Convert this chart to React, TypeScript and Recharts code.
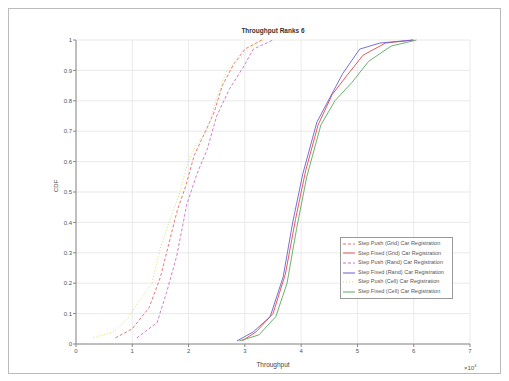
import { LineChart, Line, XAxis, YAxis, CartesianGrid } from 'recharts'

// CDF curves (x in units of 10^4)
const pushGridX = [0.7, 1.0, 1.3, 1.5, 1.65, 1.8, 1.95, 2.1, 2.25, 2.45, 2.6, 2.8, 3.0, 3.3]
const pushGridY = [0.02, 0.05, 0.12, 0.22, 0.33, 0.44, 0.52, 0.62, 0.68, 0.76, 0.85, 0.92, 0.97, 1]
const fixedGridX = [2.95, 3.2, 3.5, 3.72, 3.9, 4.08, 4.3, 4.55, 4.8, 5.1, 5.5, 6.0]
const fixedGridY = [0.01, 0.04, 0.1, 0.23, 0.41, 0.57, 0.72, 0.82, 0.88, 0.95, 0.99, 1]
const pushRandX = [1.08, 1.44, 1.61, 1.79, 1.97, 2.15, 2.33, 2.5, 2.73, 2.97, 3.15, 3.5]
const pushRandY = [0.02, 0.07, 0.17, 0.29, 0.46, 0.56, 0.64, 0.75, 0.84, 0.91, 0.97, 1]
const fixedRandX = [2.86, 3.15, 3.45, 3.68, 3.85, 4.03, 4.28, 4.51, 4.74, 5.04, 5.4, 5.99]
const fixedRandY = [0.01, 0.04, 0.09, 0.22, 0.4, 0.56, 0.73, 0.81, 0.89, 0.97, 0.99, 1]
const pushCellX = [0.3, 0.66, 0.9, 1.08, 1.35, 1.49, 1.67, 1.85, 1.99, 2.15, 2.33, 2.5, 2.68, 2.91, 3.2, 3.35]
const pushCellY = [0.02, 0.04, 0.08, 0.13, 0.2, 0.31, 0.41, 0.5, 0.6, 0.66, 0.7, 0.81, 0.9, 0.94, 0.99, 1]
const fixedCellX = [2.9, 3.25, 3.55, 3.75, 3.92, 4.1, 4.35, 4.6, 4.9, 5.2, 5.6, 6.05]
const fixedCellY = [0.01, 0.03, 0.09, 0.2, 0.38, 0.55, 0.72, 0.8, 0.86, 0.93, 0.98, 1]

const xTicks = [0, 1, 2, 3, 4, 5, 6, 7]
const yTicks = [0, 0.1, 0.2, 0.3, 0.4, 0.5, 0.6, 0.7, 0.8, 0.9, 1]

const toPoints = (xs: number[], ys: number[]) => xs.map((x, i) => ({ x, y: ys[i] }))

const series = [
  { name: 'Step Push (Grid) Car Registration', xs: pushGridX, ys: pushGridY, color: '#e86a6a', dash: '3 2' },
  { name: 'Step Fixed (Grid) Car Registration', xs: fixedGridX, ys: fixedGridY, color: '#e04848', dash: undefined },
  { name: 'Step Push (Rand) Car Registration', xs: pushRandX, ys: pushRandY, color: '#c870c8', dash: '3 2' },
  { name: 'Step Fixed (Rand) Car Registration', xs: fixedRandX, ys: fixedRandY, color: '#6a5fd0', dash: undefined },
  { name: 'Step Push (Cell) Car Registration', xs: pushCellX, ys: pushCellY, color: '#d8d860', dash: '1 2' },
  { name: 'Step Fixed (Cell) Car Registration', xs: fixedCellX, ys: fixedCellY, color: '#5aa860', dash: undefined },
]

const font = '"Liberation Sans", Arial, sans-serif'
const tickStyle = { fontSize: 6, fill: '#555', fontFamily: font }

function LegendBox() {
  return (
    <div
      style={{
        position: 'absolute',
        left: 331,
        top: 228,
        width: 113,
        boxSizing: 'border-box',
        border: '1px solid #999',
        background: '#fff',
        padding: '1px 2px',
        fontFamily: font,
        fontSize: 5.5,
        color: '#555',
        lineHeight: '9.6px',
      }}
    >
      {series.map((s) => (
        <div key={s.name} style={{ display: 'flex', alignItems: 'center', whiteSpace: 'nowrap' }}>
          <svg width={12} height={6} style={{ marginRight: 3 }}>
            <line x1={0} y1={3} x2={12} y2={3} stroke={s.color} strokeWidth={1} strokeDasharray={s.dash} />
          </svg>
          {s.name}
        </div>
      ))}
    </div>
  )
}

export default function App() {
  return (
    <div
      style={{
        position: 'relative',
        width: 491,
        height: 364,
        border: '1px solid #bbb',
        background: '#fff',
      }}
    >
      <div
        style={{
          position: 'absolute',
          left: 67,
          width: 394,
          top: 18,
          textAlign: 'center',
          fontFamily: font,
          fontSize: 6.5,
          fontWeight: 'bold',
          color: '#333',
        }}
      >
        Throughput Ranks 6
      </div>
      <LineChart width={491} height={364} margin={{ top: 31, right: 30, bottom: 0, left: 0 }}>
        <CartesianGrid stroke="#e4e4e4" strokeWidth={0.8} />
        <XAxis
          type="number"
          dataKey="x"
          domain={[0, 7]}
          ticks={xTicks}
          allowDataOverflow
          tick={tickStyle}
          tickSize={3}
          height={29}
          stroke="#888"
          label={{ value: 'Throughput', position: 'insideBottom', offset: 6, style: { fontSize: 6.5, fill: '#444', fontFamily: font } }}
        />
        <XAxis xAxisId="top" orientation="top" type="number" domain={[0, 7]} ticks={xTicks} tick={false} tickSize={0} height={0} stroke="#888" />
        <YAxis
          type="number"
          dataKey="y"
          domain={[0, 1]}
          ticks={yTicks}
          width={67}
          tick={tickStyle}
          tickSize={3}
          tickMargin={1}
          stroke="#888"
          label={{ value: 'CDF', angle: -90, position: 'insideLeft', offset: 47, style: { fontSize: 6, fill: '#444', fontFamily: font } }}
        />
        <YAxis yAxisId="right" orientation="right" type="number" domain={[0, 1]} ticks={yTicks} tick={false} tickSize={0} width={0} stroke="#888" />
        {series.map((s) => (
          <Line
            key={s.name}
            data={toPoints(s.xs, s.ys)}
            dataKey="y"
            name={s.name}
            type="linear"
            stroke={s.color}
            strokeWidth={0.9}
            strokeDasharray={s.dash}
            dot={false}
            isAnimationActive={false}
          />
        ))}
      </LineChart>
      <LegendBox />
      <div
        style={{
          position: 'absolute',
          left: 455,
          top: 354,
          fontFamily: font,
          fontSize: 6,
          color: '#555',
        }}
      >
        ×10<sup style={{ fontSize: 4 }}>4</sup>
      </div>
    </div>
  )
}
